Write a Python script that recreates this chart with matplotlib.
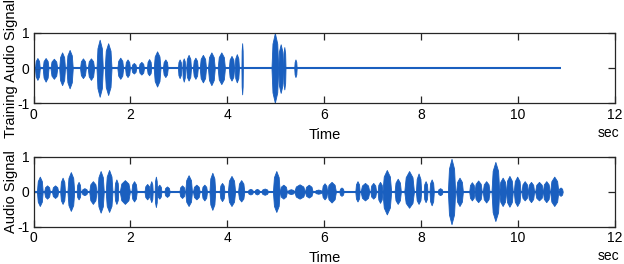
import matplotlib
matplotlib.use("Agg")
import matplotlib.pyplot as plt

# bursts: start (s), end (s), upper peak, lower peak
train_start = [0.03, 0.19, 0.35, 0.53, 0.68, 0.96, 1.12, 1.30, 1.47, 1.73, 1.89, 2.02,
               2.17, 2.34, 2.48, 2.67, 2.98, 3.07, 3.15, 3.29, 3.43, 3.60, 3.80, 4.03,
               4.15, 4.29, 4.91, 5.05, 5.15, 5.38]
train_end = [0.13, 0.31, 0.49, 0.65, 0.81, 1.08, 1.25, 1.43, 1.61, 1.85, 1.99, 2.12,
             2.28, 2.43, 2.62, 2.77, 3.05, 3.13, 3.25, 3.39, 3.56, 3.74, 3.95, 4.14,
             4.24, 4.32, 5.05, 5.15, 5.20, 5.43]
train_up = [0.29, 0.29, 0.27, 0.45, 0.52, 0.28, 0.28, 0.81, 0.71, 0.30, 0.25, 0.15,
            0.18, 0.26, 0.48, 0.25, 0.25, 0.28, 0.38, 0.30, 0.38, 0.45, 0.45, 0.35,
            0.40, 0.71, 1.00, 0.68, 0.60, 0.25]
train_down = [0.33, 0.38, 0.30, 0.48, 0.57, 0.28, 0.33, 0.81, 0.76, 0.30, 0.25, 0.15,
              0.18, 0.20, 0.52, 0.25, 0.28, 0.38, 0.35, 0.30, 0.40, 0.48, 0.45, 0.35,
              0.40, 0.74, 0.98, 0.70, 0.60, 0.25]
train_len = 10.89

audio_start = [0.07, 0.22, 0.38, 0.55, 0.70, 0.89, 0.99, 1.15, 1.32, 1.49, 1.67, 1.78,
               2.02, 2.29, 2.40, 2.50, 2.55, 2.70, 3.01, 3.13, 3.29, 3.47, 3.63, 3.84,
               4.01, 4.22, 4.42, 4.56, 4.70, 4.94, 5.08, 5.24, 5.38, 5.60, 5.80, 5.95,
               6.06, 6.31, 6.64, 6.75, 6.95, 7.10, 7.20, 7.45, 7.65, 7.89, 8.05, 8.17,
               8.34, 8.55, 8.72, 8.99, 9.10, 9.27, 9.45, 9.61, 9.75, 9.91, 10.07, 10.20,
               10.35, 10.51, 10.66, 10.83]
audio_end = [0.19, 0.34, 0.51, 0.65, 0.84, 0.97, 1.11, 1.30, 1.45, 1.63, 1.75, 1.99,
             2.13, 2.40, 2.46, 2.55, 2.64, 2.81, 3.12, 3.27, 3.43, 3.58, 3.75, 3.94,
             4.16, 4.35, 4.53, 4.66, 4.84, 5.08, 5.23, 5.38, 5.60, 5.76, 5.95, 6.06,
             6.24, 6.40, 6.73, 6.93, 7.07, 7.20, 7.38, 7.58, 7.85, 8.00, 8.13, 8.26,
             8.44, 8.70, 8.86, 9.10, 9.25, 9.41, 9.61, 9.75, 9.89, 10.05, 10.20, 10.33,
             10.51, 10.65, 10.83, 10.92]
audio_up = [0.43, 0.18, 0.18, 0.40, 0.56, 0.28, 0.10, 0.30, 0.59, 0.62, 0.35, 0.33,
            0.30, 0.22, 0.30, 0.43, 0.20, 0.15, 0.18, 0.47, 0.20, 0.20, 0.54, 0.25,
            0.45, 0.33, 0.08, 0.08, 0.09, 0.59, 0.20, 0.07, 0.21, 0.20, 0.06, 0.24,
            0.28, 0.12, 0.30, 0.25, 0.25, 0.28, 0.62, 0.37, 0.59, 0.52, 0.30, 0.35,
            0.10, 0.94, 0.40, 0.27, 0.32, 0.30, 0.85, 0.40, 0.45, 0.43, 0.30, 0.28,
            0.28, 0.30, 0.43, 0.12]
audio_down = [0.41, 0.20, 0.18, 0.35, 0.55, 0.22, 0.10, 0.35, 0.60, 0.58, 0.35, 0.35,
              0.28, 0.22, 0.30, 0.44, 0.20, 0.15, 0.18, 0.41, 0.22, 0.25, 0.52, 0.27,
              0.41, 0.28, 0.08, 0.08, 0.09, 0.58, 0.20, 0.07, 0.20, 0.17, 0.06, 0.22,
              0.31, 0.12, 0.28, 0.25, 0.20, 0.32, 0.65, 0.35, 0.46, 0.35, 0.30, 0.39,
              0.10, 0.93, 0.41, 0.25, 0.30, 0.31, 0.84, 0.41, 0.43, 0.41, 0.25, 0.30,
              0.25, 0.30, 0.41, 0.12]
audio_len = 10.9

x_ticks = [0, 2, 4, 6, 8, 10, 12]
y_ticks = [-1, 0, 1]

blue = "#1a5fbf"
edge = "#262626"


def draw_signal(ax, starts, ends, ups, downs, length, ylabel):
    ax.plot([0, length], [0, 0], color=blue, lw=1.5, solid_capstyle="butt")
    for s, e, u, d in zip(starts, ends, ups, downs):
        w = e - s
        xs = [s, s + 0.15 * w, (s + e) / 2, e - 0.15 * w, e]
        ax.fill_between(xs, [0, 0.7 * u, u, 0.7 * u, 0],
                        [0, -0.7 * d, -d, -0.7 * d, 0],
                        color=blue, lw=0.6)
    ax.set_xlim(0, 12)
    ax.set_ylim(-1, 1)
    ax.set_xticks(x_ticks)
    ax.set_yticks(y_ticks)
    ax.tick_params(direction="in", length=5, width=0.9, color=edge,
                   top=True, right=True, labelsize=10, pad=3)
    for sp in ax.spines.values():
        sp.set_color(edge)
        sp.set_linewidth(0.9)
    ax.set_xlabel("Time", fontsize=10.5)
    ax.xaxis.set_label_coords(0.5, -0.345)
    ax.set_ylabel(ylabel, fontsize=10.5)
    ax.yaxis.set_label_coords(-0.026, 0.5)


def main():
    plt.rcParams["font.family"] = ["Liberation Sans", "DejaVu Sans"]
    plt.rcParams["axes.unicode_minus"] = False
    fig = plt.figure(figsize=(6.24, 2.64), dpi=100)
    ax1 = fig.add_axes([0.0537, 0.608, 0.932, 0.267])
    ax2 = fig.add_axes([0.0537, 0.1415, 0.932, 0.265])
    draw_signal(ax1, train_start, train_end, train_up, train_down, train_len,
                "Training Audio Signal")
    draw_signal(ax2, audio_start, audio_end, audio_up, audio_down, audio_len,
                "Audio Signal")
    fig.text(0.975, 1 - 133 / 264, "sec", fontsize=10, ha="center", va="center")
    fig.text(0.975, 1 - 256.5 / 264, "sec", fontsize=10, ha="center", va="center")
    fig.savefig("out.png", dpi=100)


if __name__ == "__main__":
    main()
